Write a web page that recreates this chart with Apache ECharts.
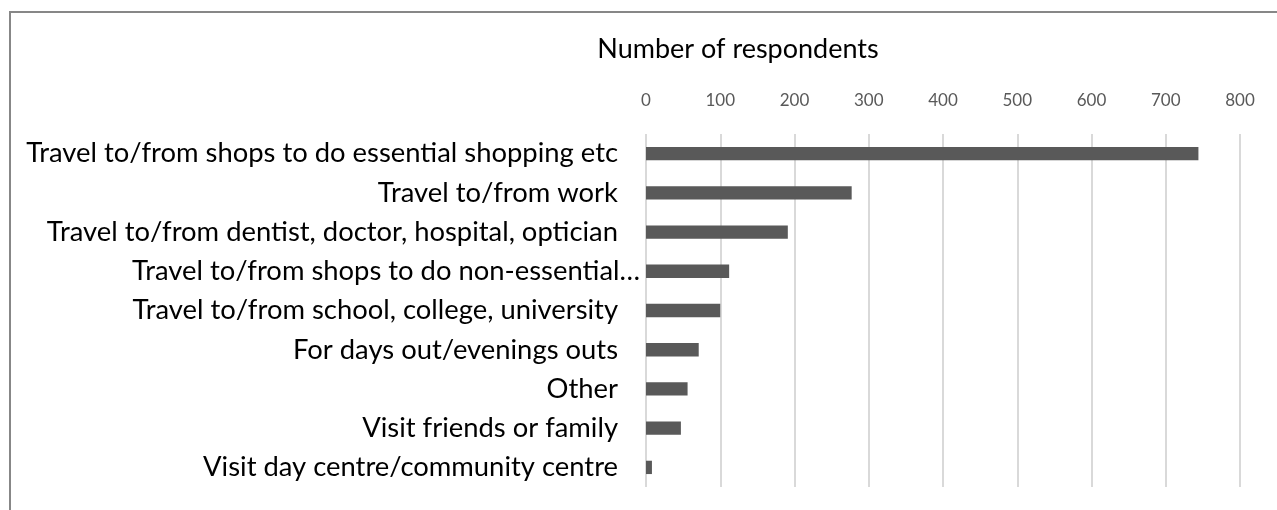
<!DOCTYPE html>
<html>
<head>
<meta charset="utf-8">
<script src="https://cdn.jsdelivr.net/npm/echarts@6/dist/echarts.min.js"></script>
<style>
html,body{margin:0;padding:0;background:#fff;}
#c{width:1277px;height:510px;}
</style>
</head>
<body>
<div id="c"></div>
<script>
const categories = [
  "Travel to/from shops to do essential shopping etc",
  "Travel to/from work",
  "Travel to/from dentist, doctor, hospital, optician",
  "Travel to/from shops to do non-essential…",
  "Travel to/from school, college, university",
  "For days out/evenings outs",
  "Other",
  "Visit friends or family",
  "Visit day centre/community centre"
];
const values = [744, 277, 191, 112, 100, 71, 56, 47, 8];
const tickValues = [0, 800, 100];
const axisTitle = "Number of respondents";

const FONT = 'Lato';
const chart = echarts.init(document.getElementById('c'));
chart.setOption({
  animation: false,
  backgroundColor: '#fff',
  title: {
    text: axisTitle,
    left: 733, top: 31,
    textAlign: 'center',
    textStyle: {fontFamily: FONT, fontSize: 27, fontWeight: 'normal', color: '#000'}
  },
  graphic: [{
    type: 'polyline',
    shape: {points: [[10, 510], [10, 12], [1277, 12]]},
    style: {stroke: '#878787', lineWidth: 2, fill: null}
  }],
  grid: {left: 646, right: 37, top: 134, bottom: 23, containLabel: false},
  xAxis: {
    type: 'value', position: 'top',
    min: tickValues[0], max: tickValues[1], interval: tickValues[2],
    axisLine: {show: false}, axisTick: {show: false},
    axisLabel: {color: '#595959', fontFamily: FONT, fontSize: 17, margin: 25},
    splitLine: {lineStyle: {color: '#d9d9d9', width: 2}}
  },
  yAxis: {
    type: 'category', inverse: true, data: categories,
    axisLine: {show: false}, axisTick: {show: false},
    axisLabel: {
      color: '#000', fontFamily: FONT, fontSize: 27.4, margin: 28,
      formatter: function (v) { return v.endsWith('…') ? '{t|' + v + '}' : v; },
      rich: {t: {fontFamily: FONT, fontSize: 27.4, color: '#000', padding: [0, -22, 0, 0]}}
    }
  },
  series: [{
    type: 'bar', data: values, barWidth: '34%',
    itemStyle: {color: '#595959'}
  }]
});
</script>
</body>
</html>
